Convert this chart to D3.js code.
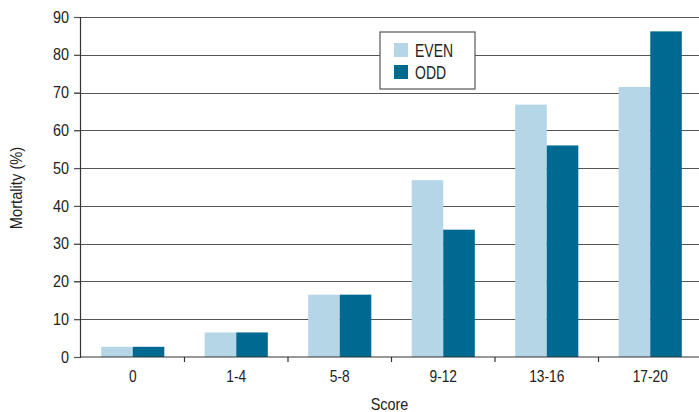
<!DOCTYPE html>
<html>
<head>
<meta charset="utf-8">
<script src="https://cdn.jsdelivr.net/npm/d3@7"></script>
<style>
  body { margin: 0; background: #fff; }
  text { font-family: "Liberation Sans", Arial, sans-serif; fill: #222; }
</style>
</head>
<body>
<div id="chart"></div>
<script>
/* data */
var categories = ["0", "1-4", "5-8", "9-12", "13-16", "17-20"]
var evenValues = [2.7, 6.5, 16.5, 46.8, 66.8, 71.5]
var oddValues = [2.7, 6.5, 16.5, 33.7, 56, 86.2]
var seriesNames = ["EVEN", "ODD"]
var yTicks = [0, 10, 20, 30, 40, 50, 60, 70, 80, 90]

var colors = { "EVEN": "#b5d6e6", "ODD": "#006991" }

var width = 699, height = 412
var margin = { top: 17, right: -3, bottom: 55, left: 81 }

var fontFamily = "'Liberation Sans', Arial, sans-serif"

/* squeeze text sideways, the original uses a condensed face */
function condense(sel, k) {
  sel.each(function() {
    var t = d3.select(this)
    var tx = +t.attr("x") || 0, ty = +t.attr("y") || 0
    t.attr("x", 0).attr("y", 0)
      .attr("transform", "translate(" + tx + "," + ty + ") scale(" + k + ",1)")
  })
}

var rows = categories.map(function(c, i) {
  return { cat: c, values: [
    { series: "EVEN", value: evenValues[i] },
    { series: "ODD", value: oddValues[i] }
  ]}
})

var svg = d3.select("#chart").append("svg")
  .attr("width", width)
  .attr("height", height)

var x = d3.scaleBand()
  .domain(categories)
  .range([margin.left, width - margin.right])

var xInner = d3.scaleBand()
  .domain(seriesNames)
  .range([0, x.bandwidth() * 0.61])

var y = d3.scaleLinear()
  .domain([0, 90])
  .range([height - margin.bottom, margin.top])

var axisX = 80

/* gridlines */
svg.append("g")
  .selectAll("line").data(yTicks.slice(1)).enter()
  .append("line")
  .attr("x1", axisX - 6)
  .attr("x2", width)
  .attr("y1", function(d) { return Math.round(y(d)) + 0.5 })
  .attr("y2", function(d) { return Math.round(y(d)) + 0.5 })
  .style("stroke", "#555")
  .style("stroke-width", 1.2)

/* bars */
var groups = svg.append("g")
  .selectAll("g").data(rows).enter()
  .append("g")
  .attr("transform", function(d) {
    return "translate(" + (x(d.cat) + (x.bandwidth() - xInner.range()[1]) / 2) + ",0)"
  })

groups.selectAll("rect").data(function(d) { return d.values }).enter()
  .append("rect")
  .attr("x", function(d) { return xInner(d.series) })
  .attr("width", xInner.bandwidth())
  .attr("y", function(d) { return y(d.value) })
  .attr("height", function(d) { return y(0) - y(d.value) })
  .style("fill", function(d) { return colors[d.series] })

/* y axis */
var yAxis = svg.append("g")
  .attr("transform", "translate(" + axisX + ",0)")
  .call(d3.axisLeft(y).tickValues(yTicks).tickSize(6).tickPadding(5))
yAxis.select(".domain").style("stroke", "#333").style("stroke-width", 1.2)
yAxis.selectAll(".tick line").style("stroke", "#555").style("stroke-width", 1.2)
yAxis.selectAll("text").style("font-size", "16px").style("fill", "#222")
  .style("font-family", fontFamily)
condense(yAxis.selectAll("text"), 0.9)

/* x axis */
var xAxis = svg.append("g")
  .attr("transform", "translate(0," + y(0) + ")")
  .call(d3.axisBottom(x).tickSize(0).tickPadding(13.5))
xAxis.select(".domain").remove()
xAxis.append("line")
  .attr("x1", axisX).attr("x2", width)
  .style("stroke", "#333").style("stroke-width", 1.2)
xAxis.selectAll("text").style("font-size", "16px").style("fill", "#222")
  .style("font-family", fontFamily)
condense(xAxis.selectAll("text"), 0.86)

/* tick marks between categories */
svg.append("g")
  .selectAll("line").data(categories.slice(1)).enter()
  .append("line")
  .attr("x1", function(d) { return x(d) })
  .attr("x2", function(d) { return x(d) })
  .attr("y1", y(0))
  .attr("y2", y(0) + 5)
  .style("stroke", "#333")
  .style("stroke-width", 1.2)

/* axis titles */
svg.append("text")
  .text("Score")
  .attr("text-anchor", "middle")
  .attr("transform", "translate(" + ((axisX + width) / 2) + ",410) scale(0.9,1)")
  .style("font-size", "16px")

svg.append("text")
  .text("Mortality (%)")
  .attr("text-anchor", "middle")
  .attr("transform", "translate(22," + ((margin.top + y(0)) / 2 + 1) + ") rotate(-90) scale(0.92,1)")
  .style("font-size", "16px")

/* legend */
var legend = svg.append("g")
  .attr("transform", "translate(380,32)")

legend.append("rect")
  .attr("width", 95)
  .attr("height", 57)
  .style("fill", "#fff")
  .style("stroke", "#555")
  .style("stroke-width", 1.2)

var items = legend.selectAll(".item").data(seriesNames).enter()
  .append("g")
  .attr("class", "item")
  .attr("transform", function(d, i) { return "translate(14," + (11 + i * 22) + ")" })

items.append("rect")
  .attr("width", 14)
  .attr("height", 14)
  .style("fill", function(d) { return colors[d] })

items.append("text")
  .text(function(d) { return d })
  .attr("transform", "translate(21,13.5) scale(0.8,1)")
  .style("font-size", "17.5px")
</script>
</body>
</html>
